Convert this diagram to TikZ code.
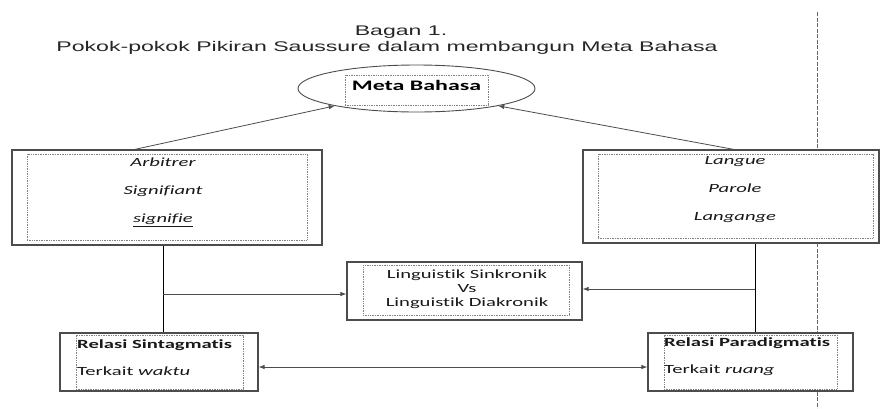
\documentclass[tikz,border=0pt]{standalone}
\usepackage{fontspec}
\setmainfont{Carlito}[FakeStretch=1.65,Ligatures=NoCommon]
\newfontfamily\baganfont{Liberation Sans}[FakeStretch=1.65]
\usetikzlibrary{shapes.geometric,arrows.meta}

\begin{document}
\begin{tikzpicture}[x=1pt,y=-1pt,
  luar/.style={draw=black!70,line width=1.2pt,fill=white,inner sep=0pt},
  dalam/.style={draw=black!50,line width=0.6pt,dash pattern=on 1pt off 0.7pt,inner sep=0pt},
  isi/.style={font=\fontsize{12.5}{15}\selectfont,text=black!90,align=center,inner sep=0pt},
  isimiring/.style={isi,font=\fontsize{12.5}{15}\selectfont\itshape},
  garis/.style={draw=black!70,line width=0.8pt},
  panah/.style={garis,-{Latex[length=6pt,width=4.5pt]}}
]
\useasboundingbox (0,0) rectangle (880,408);

% judul
\node[font=\baganfont\fontsize{14}{16}\selectfont,text=black!85] (bagan) at (401,32) {Bagan 1.};
\node[font=\baganfont\fontsize{14}{16}\selectfont,text=black!85] (judul) at (387,48)
  {Pokok-pokok Pikiran Saussure dalam membangun Meta Bahasa};

% garis putus-putus di kanan
\coordinate (atas) at (817,12);
\coordinate (bawah) at (817,408);
\draw[black!60,line width=0.6pt,dash pattern=on 4pt off 1.5pt] (atas) -- (bawah);

% meta bahasa
\node[ellipse,draw=black!70,line width=0.9pt,minimum width=237pt,minimum height=47pt,inner sep=0pt] (oval) at (416.5,88.5) {};
\node[dalam,font=\bfseries\fontsize{14.5}{17}\selectfont,text height=12pt,text depth=12pt,
  inner ysep=3pt,minimum width=143pt] (meta) at (416.5,90) {Meta Bahasa};

% kotak kiri
\node[luar,minimum width=310pt,minimum height=95pt] (arbitrer) at (167,197.5) {};
\node[dalam,minimum width=280pt,minimum height=86pt] (arbitrer-d) at (167,197) {};
\node[isimiring] (arbitrer-t) at (163,192) {Arbitrer\\[13pt]Signifiant\\[13pt]\underline{signifie}};

% kotak kanan
\node[luar,minimum width=296pt,minimum height=93pt] (langue) at (731,196.5) {};
\node[dalam,minimum width=275pt,minimum height=84pt] (langue-d) at (735.5,196) {};
\node[isimiring] (langue-t) at (735,190) {Langue\\[13pt]Parole\\[13pt]Langange};

% kotak tengah
\node[luar,minimum width=235pt,minimum height=58pt] (sinkronik) at (464.5,291) {};
\node[dalam,minimum width=206pt,minimum height=50pt] (sinkronik-d) at (466,290) {};
\node[isi,font=\fontsize{12.5}{14}\selectfont] (sinkronik-t) at (467,289)
  {Linguistik Sinkronik\\Vs\\Linguistik Diakronik};

% relasi
\node[luar,minimum width=198pt,minimum height=58pt] (sintagmatis) at (159,362) {};
\node[dalam,minimum width=167pt,minimum height=54pt] (sintagmatis-d) at (159.5,362) {};
\node[isi,align=left,anchor=west] (sintagmatis-t) at (77,358)
  {\textbf{Relasi Sintagmatis}\\[12pt]Terkait \textit{waktu}};

\node[luar,minimum width=205pt,minimum height=58pt] (paradigmatis) at (750.5,362) {};
\node[dalam,minimum width=173pt,minimum height=54pt] (paradigmatis-d) at (750.5,362) {};
\node[isi,align=left,anchor=west] (paradigmatis-t) at (664,357)
  {\textbf{Relasi Paradigmatis}\\[12pt]Terkait \textit{ruang}};

% penghubung
\coordinate (kiri) at (163,294);
\coordinate (kanan) at (755,289);
\coordinate (tengah) at (455,367);
\coordinate (pangkalkiri) at (132,150);
\coordinate (pangkalkanan) at (737,150);
\draw[panah] (pangkalkiri) -- (oval.192);
\draw[panah] (pangkalkanan) -- (oval.-12);
\draw[garis,draw=black,line width=1pt] (arbitrer.south -| kiri) -- (sintagmatis.north -| kiri);
\draw[panah] (kiri) -- (sinkronik.west |- kiri);
\draw[garis,draw=black,line width=1pt] (langue.south -| kanan) -- (paradigmatis.north -| kanan);
\draw[panah] (kanan) -- (sinkronik.east |- kanan);
\draw[panah,{Latex[length=6pt,width=4.5pt]}-{Latex[length=6pt,width=4.5pt]}]
  (sintagmatis.east |- tengah) -- (paradigmatis.west |- tengah);
\end{tikzpicture}
\end{document}
